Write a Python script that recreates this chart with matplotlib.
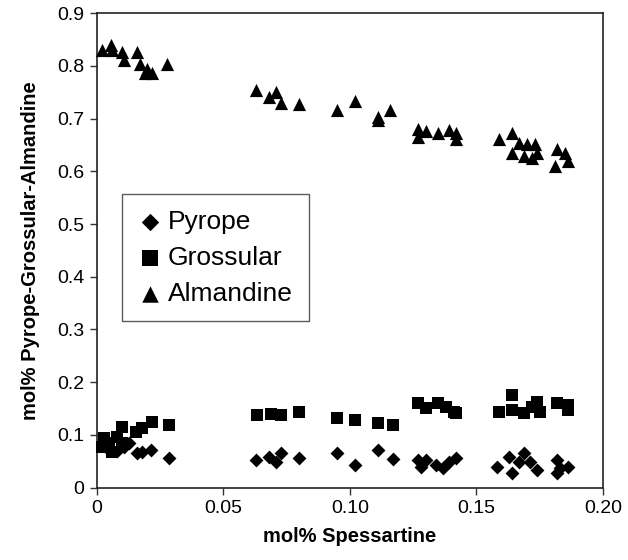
import matplotlib
matplotlib.use("Agg")
import matplotlib.pyplot as plt

plt.rcParams['font.family'] = ['Liberation Sans', 'DejaVu Sans']

# mol% Spessartine vs end-member fractions
alm_x = [0.002, 0.0057, 0.0061, 0.010, 0.011, 0.016, 0.017, 0.019, 0.020, 0.022,
         0.028, 0.063, 0.068, 0.071, 0.073, 0.080, 0.095, 0.102, 0.111, 0.111,
         0.116, 0.127, 0.127, 0.130, 0.135, 0.139, 0.142, 0.142, 0.159, 0.164,
         0.167, 0.164, 0.170, 0.169, 0.173, 0.174, 0.172, 0.182, 0.185, 0.181,
         0.186]
alm_y = [0.831, 0.840, 0.831, 0.827, 0.812, 0.827, 0.804, 0.786, 0.795, 0.786,
         0.804, 0.755, 0.742, 0.751, 0.729, 0.727, 0.717, 0.733, 0.704, 0.698,
         0.717, 0.681, 0.666, 0.676, 0.672, 0.679, 0.672, 0.661, 0.661, 0.672,
         0.653, 0.634, 0.651, 0.629, 0.651, 0.634, 0.625, 0.642, 0.634, 0.610,
         0.619]

gro_x = [0.003, 0.005, 0.006, 0.002, 0.008, 0.010, 0.010, 0.0156, 0.018, 0.022,
         0.0287, 0.0635, 0.069, 0.073, 0.080, 0.095, 0.102, 0.111, 0.117, 0.127,
         0.130, 0.135, 0.138, 0.141, 0.142, 0.159, 0.164, 0.164, 0.169, 0.172,
         0.174, 0.175, 0.182, 0.186, 0.186]
gro_y = [0.094, 0.084, 0.067, 0.077, 0.095, 0.114, 0.084, 0.105, 0.112, 0.124,
         0.118, 0.137, 0.139, 0.137, 0.143, 0.131, 0.129, 0.123, 0.118, 0.160,
         0.150, 0.160, 0.152, 0.143, 0.141, 0.143, 0.175, 0.147, 0.141, 0.152,
         0.162, 0.143, 0.160, 0.156, 0.147]

pyr_x = [0.004, 0.008, 0.011, 0.013, 0.016, 0.018, 0.0216, 0.0287, 0.063, 0.068,
         0.071, 0.073, 0.080, 0.095, 0.102, 0.111, 0.117, 0.127, 0.128, 0.130,
         0.134, 0.137, 0.139, 0.142, 0.158, 0.163, 0.164, 0.167, 0.169, 0.171,
         0.174, 0.182, 0.182, 0.186, 0.183]
pyr_y = [0.075, 0.070, 0.077, 0.085, 0.065, 0.068, 0.071, 0.056, 0.052, 0.058,
         0.048, 0.065, 0.056, 0.065, 0.043, 0.071, 0.054, 0.052, 0.039, 0.052,
         0.043, 0.037, 0.048, 0.056, 0.039, 0.058, 0.027, 0.048, 0.065, 0.048,
         0.033, 0.052, 0.027, 0.039, 0.037]

x_ticks = [0, 0.05, 0.10, 0.15, 0.20]
x_labels = ['0', '0.05', '0.10', '0.15', '0.20']
y_ticks = [0, 0.1, 0.2, 0.3, 0.4, 0.5, 0.6, 0.7, 0.8, 0.9]
y_labels = ['0', '0.1', '0.2', '0.3', '0.4', '0.5', '0.6', '0.7', '0.8', '0.9']

fig = plt.figure(figsize=(6.28, 5.6), dpi=100)
ax = fig.add_axes([96.5 / 628, 1 - 487.5 / 560, 506.5 / 628, 474.2 / 560])

ax.scatter(pyr_x, pyr_y, marker='D', s=50, color='black', linewidths=0,
           label='Pyrope', clip_on=False, zorder=3)
ax.scatter(gro_x, gro_y, marker='s', s=80, color='black', linewidths=0,
           label='Grossular', clip_on=False, zorder=3)
ax.scatter(alm_x, alm_y, marker='^', s=90, color='black', linewidths=0,
           label='Almandine', clip_on=False, zorder=3)

ax.set_xlim(0, 0.20)
ax.set_ylim(0, 0.9)
ax.set_xticks(x_ticks)
ax.set_xticklabels(x_labels)
ax.set_yticks(y_ticks)
ax.set_yticklabels(y_labels)
ax.tick_params(direction='out', length=5, width=1, labelsize=14, color='#333',
               pad=4)

for s in ax.spines.values():
    s.set_color('#222')
    s.set_linewidth(1.2)

ax.set_xlabel('mol% Spessartine', fontsize=14.5, fontweight='bold', labelpad=7)
ax.set_ylabel('mol% Pyrope-Grossular-Almandine', fontsize=14.5,
              fontweight='bold', labelpad=12)

leg = ax.legend(loc='upper left', bbox_to_anchor=(0.05, 0.619),
                borderaxespad=0, fontsize=19, frameon=True, fancybox=False,
                handletextpad=0.25, labelspacing=0.45, borderpad=0.6,
                handlelength=0.9, markerscale=1.25)
leg.get_frame().set_edgecolor('#333')
leg.get_frame().set_linewidth(1.0)

fig.savefig('out.png', dpi=100)
